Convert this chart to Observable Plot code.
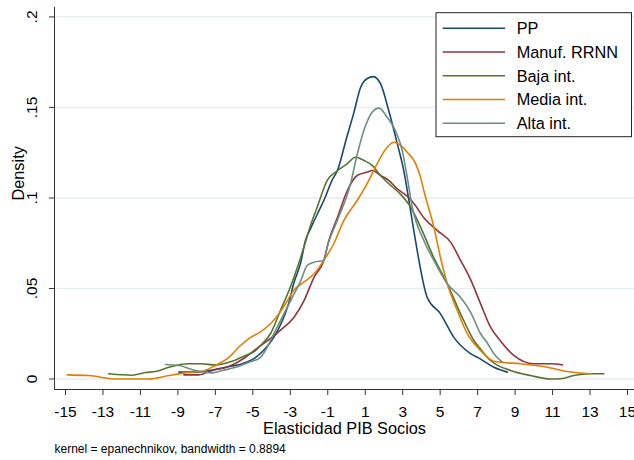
<!DOCTYPE html>
<html>
<head>
<meta charset="utf-8">
<script src="https://cdn.jsdelivr.net/npm/d3@7"></script>
<script src="https://cdn.jsdelivr.net/npm/@observablehq/plot@0.6"></script>
<style>
  html, body { margin: 0; padding: 0; background: #fff; }
  #chart { position: relative; width: 634px; height: 460px; }
</style>
</head>
<body>
<div id="chart"></div>
<script>
const seriesNames = ["PP", "Manuf. RRNN", "Baja int.", "Media int.", "Alta int."];
const seriesColors = ["#1a476f", "#90353b", "#55752f", "#e37e00", "#6e8e84"];

const xTicks = [-15, -13, -11, -9, -7, -5, -3, -1, 1, 3, 5, 7, 9, 11, 13, 15];
const yTicks = [0, 0.05, 0.1, 0.15, 0.2];
const yTickLabels = ["0", ".05", ".1", ".15", ".2"];

const ppX = [-8.95,-8.06,-7.35,-6.46,-5.57,-4.9,-4.32,-3.88,-3.43,-3.08,-2.81,-2.45,-2.19,-1.92,-1.47,-1.21,-0.76,-0.49,0.0,0.39,0.75,1.11,1.43,1.82,2.26,2.71,3.06,3.42,3.69,4.31,5.02,5.73,6.62,7.16,7.87,8.58];
const ppY = [0.0038,0.0038,0.0047,0.0065,0.0084,0.0115,0.017,0.023,0.032,0.042,0.053,0.064,0.0765,0.083,0.093,0.0986,0.110,0.115,0.133,0.147,0.161,0.166,0.167,0.163,0.148,0.130,0.115,0.093,0.076,0.045,0.036,0.023,0.014,0.011,0.0065,0.0038];

const manufX = [-8.68,-7.88,-7.17,-6.28,-5.39,-4.9,-4.23,-3.52,-2.81,-2.28,-1.74,-1.21,-0.94,-0.49,0.04,0.57,1.11,1.37,1.82,2.26,2.71,3.24,3.6,4.13,4.85,5.56,6.09,6.62,7.16,7.69,8.22,8.93,10.0,10.9,11.52];
const manufY = [0.0023,0.0023,0.0047,0.0069,0.012,0.016,0.021,0.027,0.034,0.043,0.056,0.0655,0.0765,0.089,0.104,0.1124,0.1143,0.1152,0.1124,0.1097,0.105,0.101,0.097,0.089,0.082,0.0756,0.0655,0.055,0.0415,0.0286,0.021,0.013,0.0084,0.0084,0.0078];

const bajaX = [-12.69,-11.44,-10.73,-10.19,-9.48,-8.42,-7.79,-6.99,-6.10,-5.39,-4.86,-4.59,-4.06,-3.52,-2.99,-2.45,-1.83,-1.56,-1.03,-0.49,0.04,0.48,0.93,1.37,1.82,2.35,2.89,3.42,3.95,4.66,5.38,6.09,6.80,7.16,7.69,8.76,9.83,10.9,11.43,12.14,13.03,13.74];
const bajaY = [0.0029,0.0021,0.0036,0.0041,0.0065,0.0084,0.0084,0.0078,0.0098,0.013,0.0157,0.0185,0.025,0.038,0.051,0.067,0.0876,0.095,0.1097,0.115,0.119,0.1225,0.1207,0.118,0.1124,0.107,0.102,0.095,0.084,0.067,0.0526,0.036,0.0213,0.0165,0.0102,0.0047,0.0019,0.0,0.0001,0.0019,0.0029,0.0029];

const mediaX = [-14.91,-13.76,-12.33,-10.55,-9.48,-8.59,-7.70,-6.99,-6.28,-5.66,-5.12,-4.59,-4.06,-3.34,-2.81,-2.28,-1.74,-1.21,-0.68,-0.14,0.57,1.11,1.64,2.17,2.53,2.89,3.24,3.69,3.95,4.13,4.66,5.02,5.38,5.91,6.45,7.16,7.87,8.22,9.29,10.72,11.78,13.03];
const mediaY = [0.0023,0.0019,0.0,0.0,0.0019,0.0034,0.0043,0.0075,0.012,0.0185,0.023,0.026,0.0305,0.040,0.049,0.0535,0.058,0.0655,0.0747,0.0876,0.0986,0.108,0.119,0.128,0.1308,0.129,0.1253,0.119,0.1115,0.104,0.084,0.067,0.0526,0.038,0.025,0.0157,0.0098,0.0093,0.0084,0.0065,0.0041,0.0029];

const altaX = [-9.66,-8.95,-8.06,-7.17,-6.63,-5.92,-5.21,-4.59,-4.23,-3.88,-3.34,-2.9,-2.45,-2.10,-1.74,-1.21,-1.03,-0.49,0.22,0.57,1.02,1.37,1.73,2.17,2.62,2.98,3.24,3.51,4.13,4.66,5.38,6.09,6.62,7.16,7.51,7.87,8.31];
const altaY = [0.008,0.0075,0.0047,0.0034,0.0047,0.0065,0.0093,0.012,0.0176,0.025,0.036,0.045,0.054,0.0627,0.0645,0.0655,0.073,0.0876,0.108,0.124,0.140,0.1474,0.1496,0.1446,0.137,0.126,0.1115,0.095,0.0765,0.0655,0.0526,0.045,0.037,0.025,0.020,0.014,0.0093];

const xTitle = "Elasticidad PIB Socios";
const yTitle = "Density";
const captionText = "kernel = epanechnikov, bandwidth = 0.8894";

const seriesXs = [ppX, manufX, bajaX, mediaX, altaX];
const seriesYs = [ppY, manufY, bajaY, mediaY, altaY];
const data = seriesNames.flatMap((name, s) =>
  seriesXs[s].map((x, i) => ({series: name, x, y: seriesYs[s][i]}))
);

const FONT = "'Liberation Sans', Arial, Helvetica, sans-serif";
const xDomain = [-15.587, 15.374];
const yDomain = [-0.0058, 0.2052];

const chart = Plot.plot({
  width: 634,
  height: 460,
  marginLeft: 54,
  marginRight: 0,
  marginTop: 7,
  marginBottom: 71,
  style: {fontFamily: FONT, fontSize: "15.5px", color: "#000", background: "#fff"},
  x: {domain: xDomain},
  y: {domain: yDomain},
  color: {domain: seriesNames, range: seriesColors},
  marks: [
    Plot.ruleY(yTicks, {stroke: "#e6eef1", strokeWidth: 1.4}),
    Plot.line(data, {x: "x", y: "y", z: "series", stroke: "series", strokeWidth: 1.6, curve: "monotone-x"}),
    Plot.ruleX([xDomain[0]], {stroke: "#333", strokeWidth: 1}),
    Plot.ruleY([yDomain[0]], {stroke: "#333", strokeWidth: 1}),
    Plot.axisX({ticks: xTicks, tickSize: 6, tickPadding: 10.5, label: null, stroke: "#333", fontSize: 15.5, tickFormat: d => String(d)}),
    Plot.axisY({ticks: yTicks, tickSize: 5, tickPadding: 12.3, tickRotate: -90, label: null, stroke: "#333", fontSize: 15.5, tickFormat: d => yTickLabels[yTicks.indexOf(d)]}),
    Plot.text([xTitle], {frameAnchor: "bottom", dy: 44, lineAnchor: "bottom", fontSize: 16.3, fill: "#000"}),
    Plot.text([yTitle], {frameAnchor: "left", dx: -30.7, dy: 2, rotate: -90, lineAnchor: "bottom", fontSize: 16.3, fill: "#000"}),
    Plot.text([captionText], {frameAnchor: "bottom-left", dy: 63.3, lineAnchor: "bottom", textAnchor: "start", fontSize: 12, fill: "#000"})
  ]
});

document.getElementById("chart").appendChild(chart);

// Legend (Stata style box with line samples)
const svg = d3.select(chart);
const lg = svg.append("g")
  .attr("font-family", FONT)
  .attr("font-size", 16.3)
  .attr("text-anchor", "start");
lg.append("rect")
  .attr("x", 436).attr("y", 12.7).attr("width", 195.5).attr("height", 124)
  .attr("fill", "#fff").attr("stroke", "#222").attr("stroke-width", 1);
seriesNames.forEach((name, i) => {
  const yy = 28.3 + i * 23.75;
  lg.append("line")
    .attr("x1", 442.7).attr("x2", 505).attr("y1", yy).attr("y2", yy)
    .attr("stroke", seriesColors[i]).attr("stroke-width", 1.6);
  lg.append("text")
    .attr("x", 516.7).attr("y", yy).attr("dy", "0.35em")
    .attr("text-anchor", "start")
    .attr("fill", "#000").text(name);
});
</script>
</body>
</html>
